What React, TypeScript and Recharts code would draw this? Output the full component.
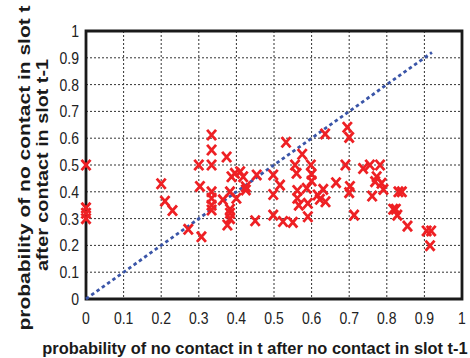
import React from 'react';
import { ScatterChart, Scatter, XAxis, YAxis, CartesianGrid, ReferenceLine, ReferenceArea, Label } from 'recharts';

// probability of no contact in t after no contact in slot t-1
const noContactAfterNoContact = [
  0, 0, 0, 0, 0.2, 0.21, 0.23, 0.272, 0.307, 0.303, 0.3,
  0.334, 0.334, 0.334, 0.334, 0.334, 0.334, 0.334,
  0.374, 0.364, 0.387, 0.383, 0.383, 0.383, 0.383, 0.376,
  0.396, 0.41, 0.418, 0.425, 0.425, 0.4, 0.454, 0.45,
  0.498, 0.498, 0.498, 0.516, 0.524, 0.55, 0.532,
  0.575, 0.556, 0.56, 0.598, 0.6, 0.6,
  0.562, 0.562, 0.566, 0.587, 0.59, 0.59,
  0.616, 0.622, 0.631, 0.637, 0.636,
  0.665, 0.69, 0.695, 0.7, 0.702, 0.7, 0.713,
  0.737, 0.755, 0.782, 0.773, 0.769, 0.786, 0.791, 0.761,
  0.831, 0.84, 0.817, 0.824, 0.828, 0.855, 0.906, 0.918, 0.915,
];

// probability of no contact in slot t after contact in slot t-1
const noContactAfterContact = [
  0.5, 0.34, 0.32, 0.3, 0.43, 0.365, 0.33, 0.26, 0.232, 0.42, 0.5,
  0.612, 0.556, 0.5, 0.4, 0.376, 0.35, 0.332,
  0.53, 0.37, 0.456, 0.4, 0.335, 0.32, 0.3, 0.276,
  0.469, 0.475, 0.456, 0.419, 0.407, 0.376, 0.463, 0.292,
  0.463, 0.39, 0.313, 0.425, 0.289, 0.286, 0.585,
  0.54, 0.5, 0.469, 0.5, 0.466, 0.44,
  0.405, 0.376, 0.35, 0.413, 0.357, 0.307,
  0.388, 0.372, 0.409, 0.363, 0.616,
  0.434, 0.5, 0.641, 0.603, 0.42, 0.397, 0.313,
  0.487, 0.5, 0.5, 0.456, 0.438, 0.432, 0.409, 0.384,
  0.4, 0.4, 0.335, 0.335, 0.313, 0.272, 0.254, 0.254, 0.199,
];

const ticks = [0, 0.1, 0.2, 0.3, 0.4, 0.5, 0.6, 0.7, 0.8, 0.9, 1];
const diagonal = [0, 0.92];

const points = noContactAfterNoContact.map((x, i) => ({ x, y: noContactAfterContact[i] }));

const font = '"Liberation Sans", Arial, sans-serif';

const Cross = (props: any) => {
  const { cx, cy } = props;
  if (cx == null || cy == null) return null;
  const w = 4.5;
  const h = 5.1;
  return (
    <path
      d={`M${cx - w},${cy - h}L${cx + w},${cy + h}M${cx - w},${cy + h}L${cx + w},${cy - h}`}
      stroke="#ee2024"
      strokeWidth={2.8}
      fill="none"
    />
  );
};

const XTick = (props: any) => {
  const { x, payload } = props;
  return (
    <g transform={`translate(${x},312)`}>
      <text transform="scale(1,1.18)" textAnchor="middle" dy="0.71em" fontSize={14} fontFamily={font} fill="#222">
        {String(payload.value)}
      </text>
    </g>
  );
};

const YTick = (props: any) => {
  const { y, payload } = props;
  return (
    <g transform={`translate(79,${y})`}>
      <text transform="scale(1,1.18)" textAnchor="end" dy="0.36em" fontSize={14} fontFamily={font} fill="#222">
        {String(payload.value)}
      </text>
    </g>
  );
};

const XTitle = () => (
  <text x={255} y={348} textAnchor="middle" dominantBaseline="central" fontSize={16.4} fontWeight="bold" fontFamily={font} fill="#1a1a1a">
    probability of no contact in t after no contact in slot t-1
  </text>
);

const YTitle = () => (
  <g fontWeight="bold" fontFamily={font} fill="#1a1a1a" fontSize={16.4}>
    <text
      transform="translate(24,168) rotate(-90)"
      textAnchor="middle"
      dominantBaseline="central"
      textLength={325}
      lengthAdjust="spacingAndGlyphs"
    >
      probability of no contact in slot t
    </text>
    <text
      transform="translate(42,165) rotate(-90)"
      textAnchor="middle"
      dominantBaseline="central"
      textLength={212}
      lengthAdjust="spacingAndGlyphs"
    >
      after contact in slot t-1
    </text>
  </g>
);

export default function App() {
  return (
    <div style={{ position: 'absolute', left: 0, top: 0, background: '#fff' }}>
      <ScatterChart width={470} height={358} margin={{ top: 31, right: 8, bottom: 0, left: 0 }}>
        <CartesianGrid stroke="#333" strokeDasharray="2 2" strokeWidth={1} />
        <XAxis
          type="number"
          dataKey="x"
          domain={[0, 1]}
          ticks={ticks}
          height={59}
          axisLine={false}
          tickLine={false}
          tick={<XTick />}
          interval={0}
        >
          <Label content={<XTitle />} />
        </XAxis>
        <YAxis
          type="number"
          dataKey="y"
          domain={[0, 1]}
          ticks={ticks}
          width={86}
          axisLine={false}
          tickLine={false}
          tick={<YTick />}
          interval={0}
        >
          <Label content={<YTitle />} />
        </YAxis>
        <ReferenceLine
          segment={[{ x: diagonal[0], y: diagonal[0] }, { x: diagonal[1], y: diagonal[1] }]}
          stroke="#3a55a8"
          strokeWidth={2.8}
          strokeDasharray="3.5 3"
        />
        <Scatter data={points} shape={<Cross />} isAnimationActive={false} />
        <ReferenceArea x1={0} x2={1} y1={0} y2={1} fill="none" fillOpacity={0} stroke="#1a1a1a" strokeWidth={2.8} />
      </ScatterChart>
    </div>
  );
}
